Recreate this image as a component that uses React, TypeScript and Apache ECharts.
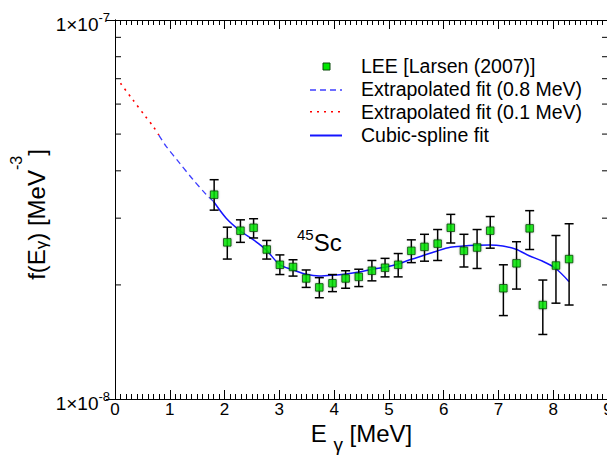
import React, { useEffect, useRef } from "react";
import * as echarts from "echarts";

const FONT = "'Liberation Sans', Arial, Helvetica, sans-serif";

// LEE data [Larsen (2007)] for 45Sc
const leeEnergy = [1.81, 2.05, 2.29, 2.53, 2.77, 3.01, 3.25, 3.49, 3.73, 3.97, 4.21, 4.45, 4.69, 4.93, 5.17, 5.41, 5.65, 5.89, 6.13, 6.37, 6.61, 6.85, 7.09, 7.33, 7.57, 7.81, 8.05, 8.29];
const leeValue = [3.46e-8, 2.59e-8, 2.78e-8, 2.83e-8, 2.48e-8, 2.26e-8, 2.23e-8, 2.08e-8, 1.97e-8, 2.02e-8, 2.08e-8, 2.10e-8, 2.18e-8, 2.22e-8, 2.26e-8, 2.46e-8, 2.52e-8, 2.57e-8, 2.83e-8, 2.46e-8, 2.51e-8, 2.78e-8, 1.96e-8, 2.28e-8, 2.82e-8, 1.77e-8, 2.25e-8, 2.34e-8];
const leeLow = [3.15e-8, 2.34e-8, 2.59e-8, 2.66e-8, 2.34e-8, 2.13e-8, 2.11e-8, 1.97e-8, 1.85e-8, 1.92e-8, 1.96e-8, 1.98e-8, 2.05e-8, 2.10e-8, 2.10e-8, 2.29e-8, 2.31e-8, 2.32e-8, 2.58e-8, 2.23e-8, 2.21e-8, 2.50e-8, 1.66e-8, 1.95e-8, 2.48e-8, 1.48e-8, 1.79e-8, 1.77e-8];
const leeHigh = [3.79e-8, 2.84e-8, 2.97e-8, 2.99e-8, 2.62e-8, 2.40e-8, 2.33e-8, 2.19e-8, 2.09e-8, 2.13e-8, 2.18e-8, 2.20e-8, 2.32e-8, 2.35e-8, 2.42e-8, 2.63e-8, 2.72e-8, 2.80e-8, 3.07e-8, 2.72e-8, 2.80e-8, 3.03e-8, 2.26e-8, 2.60e-8, 3.14e-8, 2.06e-8, 2.70e-8, 2.90e-8];

// Cubic-spline fit
const splineEnergy = [1.8, 2.03, 2.29, 2.53, 2.76, 3.0, 3.25, 3.49, 3.73, 3.97, 4.22, 4.46, 4.7, 4.95, 5.17, 5.41, 5.64, 5.88, 6.12, 6.36, 6.6, 6.84, 7.08, 7.32, 7.56, 7.8, 8.04, 8.29];
const splineValue = [3.32e-8, 3.0e-8, 2.775e-8, 2.628e-8, 2.474e-8, 2.267e-8, 2.19e-8, 2.133e-8, 2.111e-8, 2.12e-8, 2.137e-8, 2.163e-8, 2.199e-8, 2.23e-8, 2.271e-8, 2.337e-8, 2.394e-8, 2.458e-8, 2.513e-8, 2.533e-8, 2.544e-8, 2.549e-8, 2.533e-8, 2.483e-8, 2.388e-8, 2.312e-8, 2.213e-8, 2.04e-8];

// Extrapolated fit (0.8 MeV)
const extra08Energy = [0.8, 0.93, 1.18, 1.42, 1.66, 1.8];
const extra08Value = [4.97e-8, 4.65e-8, 4.19e-8, 3.80e-8, 3.47e-8, 3.32e-8];

// Extrapolated fit (0.1 MeV)
const extra01Energy = [0.1, 0.325, 0.55, 0.7, 0.8];
const extra01Value = [6.81e-8, 6.16e-8, 5.58e-8, 5.23e-8, 4.97e-8];

// Axis ticks
const yMinorTicks = [2e-8, 3e-8, 4e-8, 5e-8, 6e-8, 7e-8, 8e-8, 9e-8];

const legendLabels = ["LEE [Larsen (2007)]", "Extrapolated fit (0.8 MeV)", "Extrapolated fit (0.1 MeV)", "Cubic-spline fit"];

const zip = (a: number[], b: number[]) => a.map((v, i) => [v, b[i]]);

export default function App() {
  const ref = useRef<HTMLDivElement>(null);
  useEffect(() => {
    if (!ref.current) return;
    const chart = echarts.init(ref.current, null, { renderer: "svg" });

    const axisCommon = {
      type: "value",
      min: 0,
      max: 9,
      interval: 1,
      axisLine: { show: true, onZero: false, lineStyle: { color: "#000", width: 1 } },
      axisTick: { show: true, inside: true, length: 9, lineStyle: { color: "#000", width: 1 } },
      minorTick: { show: true, splitNumber: 10, length: 5, lineStyle: { color: "#000", width: 1 } },
      splitLine: { show: false },
    };

    const option: any = {
      animation: false,
      backgroundColor: "#fff",
      textStyle: { fontFamily: FONT },
      grid: { left: 115, top: 20, width: 493, height: 379, containLabel: false, outerBoundsMode: "none" },
      xAxis: [
        {
          ...axisCommon,
          position: "bottom",
          axisLabel: { fontSize: 17, lineHeight: 15, color: "#000", margin: 3, fontFamily: FONT },
          name: "{m|E }{g|γ}{m| [MeV]}",
          nameLocation: "middle",
          nameGap: 22,
          nameMoveOverlap: false,
          nameTextStyle: {
            fontSize: 24,
            color: "#000",
            fontFamily: FONT,
            verticalAlign: "top",
            rich: {
              m: { fontSize: 24, lineHeight: 20, verticalAlign: "top", color: "#000", fontFamily: FONT },
              g: { fontSize: 19, lineHeight: 19, padding: [14, 0, 0, 0], verticalAlign: "top", color: "#000", fontFamily: FONT },
            },
          },
        },
        {
          ...axisCommon,
          position: "top",
          axisLabel: { show: false },
        },
      ],
      yAxis: [
        {
          type: "log",
          logBase: 10,
          min: 1e-8,
          max: 1e-7,
          position: "left",
          axisLine: { show: true, lineStyle: { color: "#000", width: 1 } },
          axisTick: { show: true, inside: true, length: 9, lineStyle: { color: "#000" } },
          splitLine: { show: false },
          axisLabel: {
            margin: 5,
            color: "#000",
            fontSize: 19,
            padding: [8, 0, 0, 0],
            formatter: (v: number) => "{m|1×10}{s|" + Math.round(Math.log10(v)) + "}",
            rich: {
              m: { fontSize: 19, lineHeight: 20, color: "#000", fontFamily: FONT },
              s: { fontSize: 13, lineHeight: 13, padding: [0, 0, 13, 0], color: "#000", fontFamily: FONT },
            },
          },
          name: "f(E{g|γ}) [MeV{s|-3}]",
          nameLocation: "middle",
          nameGap: 66,
          nameMoveOverlap: false,
          nameTextStyle: {
            fontSize: 24,
            color: "#000",
            fontFamily: FONT,
            lineHeight: 26,
            padding: [0, 10, 0, 0],
            rich: {
              g: { fontSize: 17, lineHeight: 17, padding: [10, 0, 0, 0], color: "#000", fontFamily: FONT },
              s: { fontSize: 16, lineHeight: 16, padding: [0, 0, 40, 0], color: "#000", fontFamily: FONT },
            },
          },
        },
        {
          type: "log",
          logBase: 10,
          min: 1e-8,
          max: 1e-7,
          position: "right",
          axisLine: { show: true, lineStyle: { color: "#000", width: 1 } },
          axisTick: { show: true, inside: true, length: 9, lineStyle: { color: "#000" } },
          splitLine: { show: false },
          axisLabel: { show: false },
        },
      ],
      series: [
        {
          name: "yMinorTicks",
          type: "custom",
          xAxisIndex: 0,
          yAxisIndex: 0,
          silent: true,
          clip: false,
          data: yMinorTicks.map((v) => [0, v]),
          renderItem: (_p: any, api: any) => {
            const v = api.value(1);
            const l = api.coord([0, v]);
            const r = api.coord([9, v]);
            return {
              type: "group",
              children: [
                { type: "line", shape: { x1: l[0], y1: l[1], x2: l[0] + 6, y2: l[1] }, style: { stroke: "#000", lineWidth: 1 } },
                { type: "line", shape: { x1: r[0] - 6, y1: r[1], x2: r[0], y2: r[1] }, style: { stroke: "#000", lineWidth: 1 } },
              ],
            };
          },
          z: 1,
        },
        {
          name: legendLabels[2],
          type: "line",
          data: zip(extra01Energy, extra01Value),
          symbol: "none",
          smooth: 0.3,
          lineStyle: { color: "#ff0000", width: 1.6, type: [2, 5] },
          z: 2,
        },
        {
          name: legendLabels[1],
          type: "line",
          data: zip(extra08Energy, extra08Value),
          symbol: "none",
          smooth: 0.3,
          lineStyle: { color: "#3f3fff", width: 1.3, type: [6, 4] },
          z: 2,
        },
        {
          name: legendLabels[3],
          type: "line",
          data: zip(splineEnergy, splineValue),
          symbol: "none",
          smooth: 0.3,
          lineStyle: { color: "#1414ff", width: 1.5 },
          z: 2,
        },
        {
          name: "errors",
          type: "custom",
          data: leeEnergy.map((e, i) => [e, leeLow[i], leeHigh[i]]),
          encode: { x: 0, y: [1, 2] },
          renderItem: (_p: any, api: any) => {
            const x = api.value(0);
            const lo = api.coord([x, api.value(1)]);
            const hi = api.coord([x, api.value(2)]);
            const w = 4.5;
            const st = { stroke: "#000", lineWidth: 1.5 };
            return {
              type: "group",
              children: [
                { type: "line", shape: { x1: lo[0], y1: lo[1], x2: hi[0], y2: hi[1] }, style: st },
                { type: "line", shape: { x1: hi[0] - w, y1: hi[1], x2: hi[0] + w, y2: hi[1] }, style: st },
                { type: "line", shape: { x1: lo[0] - w, y1: lo[1], x2: lo[0] + w, y2: lo[1] }, style: st },
              ],
            };
          },
          z: 3,
        },
        {
          name: legendLabels[0],
          type: "scatter",
          data: zip(leeEnergy, leeValue),
          symbol: "rect",
          symbolSize: 7.5,
          itemStyle: {
            color: "#00e800",
            borderColor: "#0a4a0a",
            borderWidth: 1,
            shadowBlur: 2,
            shadowColor: "rgba(0,0,0,0.35)",
          },
          z: 4,
        },
      ],
      graphic: [
        { type: "rect", shape: { x: 323, y: 63, width: 7, height: 7 }, style: { fill: "#00e800", stroke: "#0a4a0a", lineWidth: 1 }, z: 10 },
        { type: "line", shape: { x1: 310, y1: 90, x2: 342, y2: 90 }, style: { stroke: "#3f3fff", lineWidth: 1.3, lineDash: [6, 4] }, z: 10 },
        { type: "line", shape: { x1: 310, y1: 111.7, x2: 342, y2: 111.7 }, style: { stroke: "#ff0000", lineWidth: 1.6, lineDash: [2, 5] }, z: 10 },
        { type: "line", shape: { x1: 310, y1: 135.5, x2: 342, y2: 135.5 }, style: { stroke: "#1414ff", lineWidth: 2 }, z: 10 },
        ...legendLabels.map((t, i) => ({
          type: "text",
          x: 361,
          y: [65.5, 88.5, 111.5, 134.7][i],
          style: { text: t, fill: "#000", fontSize: 19.5, fontFamily: FONT, verticalAlign: "middle", align: "left" },
          z: 10,
        })),
        {
          type: "text",
          x: 297,
          y: 242,
          style: {
            text: "{a|45}{b|Sc}",
            fill: "#000",
            fontFamily: FONT,
            verticalAlign: "middle",
            rich: {
              a: { fontSize: 15, lineHeight: 15, padding: [0, 0, 16, 0], fill: "#000", fontFamily: FONT },
              b: { fontSize: 24, lineHeight: 26, fill: "#000", fontFamily: FONT },
            },
          },
          z: 10,
        },
      ],
    };

    chart.setOption(option);
    return () => chart.dispose();
  }, []);

  return <div ref={ref} style={{ position: "absolute", left: 0, top: 0, width: 607, height: 461 }} />;
}
